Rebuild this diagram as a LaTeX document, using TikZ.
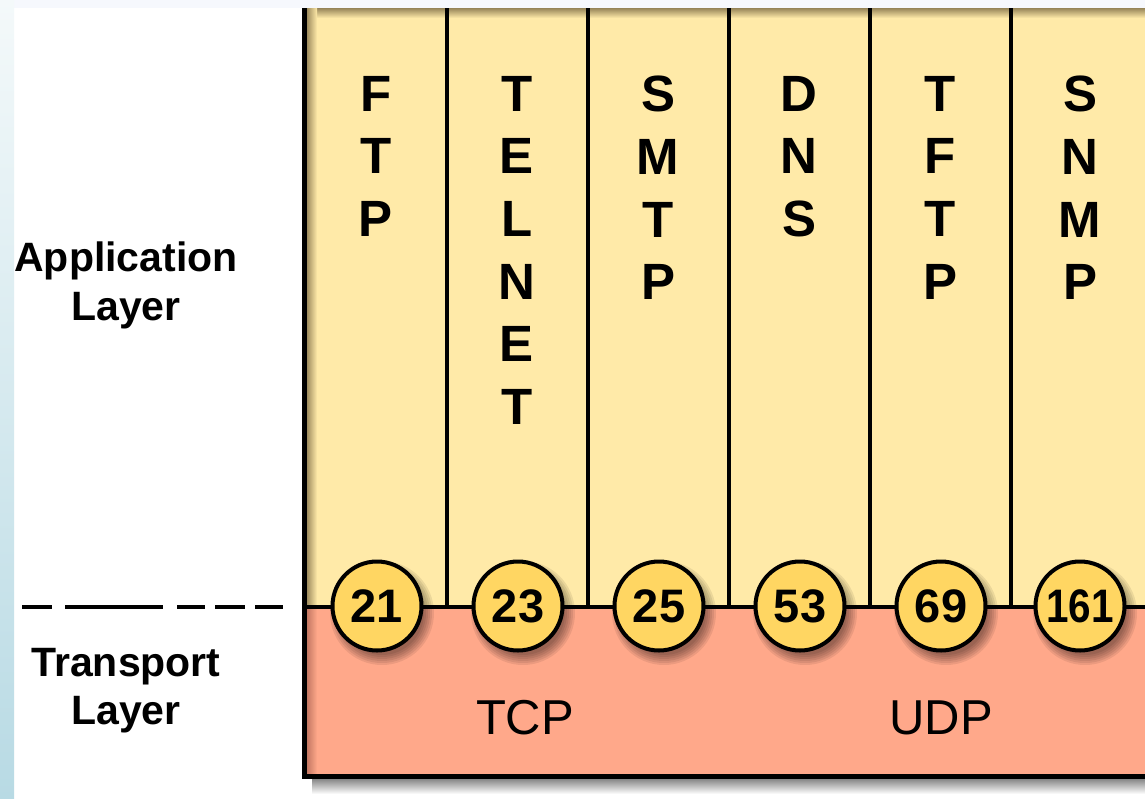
\documentclass[tikz,border=0pt]{standalone}
\usepackage{fontspec}
\usepackage{graphicx}
\setmainfont{Liberation Sans}
\definecolor{appyel}{RGB}{255,234,168}
\definecolor{tsalmon}{RGB}{255,168,138}
\definecolor{portyel}{RGB}{255,214,98}
\definecolor{inshade}{RGB}{150,132,88}
\definecolor{inshadeb}{RGB}{190,115,95}
\definecolor{stripe}{RGB}{246,248,253}
\definecolor{sidetop}{RGB}{244,249,250}
\definecolor{sidemid}{RGB}{222,238,242}
\definecolor{sidebot}{RGB}{184,218,228}
\begin{document}
\begin{tikzpicture}[x=1pt,y=-1pt,
  letters/.style={font=\fontsize{51}{62.6}\selectfont\bfseries, align=center, inner sep=0pt, anchor=north},
  port/.style={circle, draw=black, line width=4pt, fill=portyel, minimum size=89pt, inner sep=0pt, font=\fontsize{47}{47}\selectfont\bfseries},
  layerlbl/.style={font=\fontsize{41}{48.5}\selectfont\bfseries, align=center, inner sep=0pt, anchor=north},
  proto/.style={font=\fontsize{49}{49}\selectfont, inner sep=0pt},
  rule/.style={line width=4pt, draw=black},
  pshadow/.style={fill=black, opacity=0.08}]
\useasboundingbox (0,0) rectangle (1145,798);
\clip (0,0) rectangle (1145,798);
% background
\fill[white] (0,0) rectangle (1145,798);
\fill[stripe] (0,0) rectangle (1145,8);
\shade[top color=sidetop, middle color=sidemid, bottom color=sidebot] (0,0) rectangle (14,798);
% drop shadow under box
\shade[top color=black!50, bottom color=white] (312,778) rectangle (1150,794);
% layer fills
\fill[appyel] (304,8) rectangle (1150,607);
\fill[tsalmon] (304,607) rectangle (1150,776);
% inner shading
\shade[top color=inshade, bottom color=appyel] (306,8) rectangle (1150,18);
\shade[left color=inshade, right color=appyel] (306,8) rectangle (317,607);
\shade[left color=inshadeb, right color=tsalmon] (306,609) rectangle (317,774);
% column dividers
\foreach \xx in {447,588,729,870,1011}{
  \draw[rule] (\xx,8) -- (\xx,607);
}
% layer boundary
\draw[rule] (304,607) -- (1150,607);
% box outline
\draw[line width=5pt] (304,8) -- (304,776.5) -- (1150,776.5);
% dashed separator
\coordinate (dl) at (22,607);
\coordinate (dr) at (283,607);
\draw[line width=4pt, dash pattern=on 30pt off 13pt on 98pt off 14pt on 28pt off 10pt on 30pt off 10pt on 28pt] (dl) -- (dr);
% port shadows
\foreach \xx in {377,518,659,800,941,1080}{
  \foreach \rr in {52,50,48,46,44,42}{
    \fill[pshadow] (\xx+5,613) circle[radius=\rr];
  }
}
% ports
\node[port] (p21) at (377,606) {21};
\node[port] (p23) at (518,606) {23};
\node[port] (p25) at (659,606) {25};
\node[port] (p53) at (800,606) {53};
\node[port] (p69) at (941,606) {69};
\node[port] (p161) at (1080,606) {\scalebox{0.86}[1]{161}};
% application protocols
\node[letters] (ftp) at (376,76) {F\\T\\P};
\node[letters] (telnet) at (517,76) {T\\E\\L\\N\\E\\T};
\node[letters] (smtp) at (658,76) {S\\M\\T\\P};
\node[letters] (dns) at (799,76) {D\\N\\S};
\node[letters] (tftp) at (940,76) {T\\F\\T\\P};
\node[letters] (snmp) at (1080,76) {S\\N\\M\\P};
% transport protocols
\node[proto] (tcp) at (525,718) {TCP};
\node[proto] (udp) at (941,718) {UDP};
% layer labels
\node[layerlbl] (app) at (126,242) {Application\\Layer};
\node[layerlbl] (trans) at (126,648) {Transport\\Layer};
\end{tikzpicture}
\end{document}
